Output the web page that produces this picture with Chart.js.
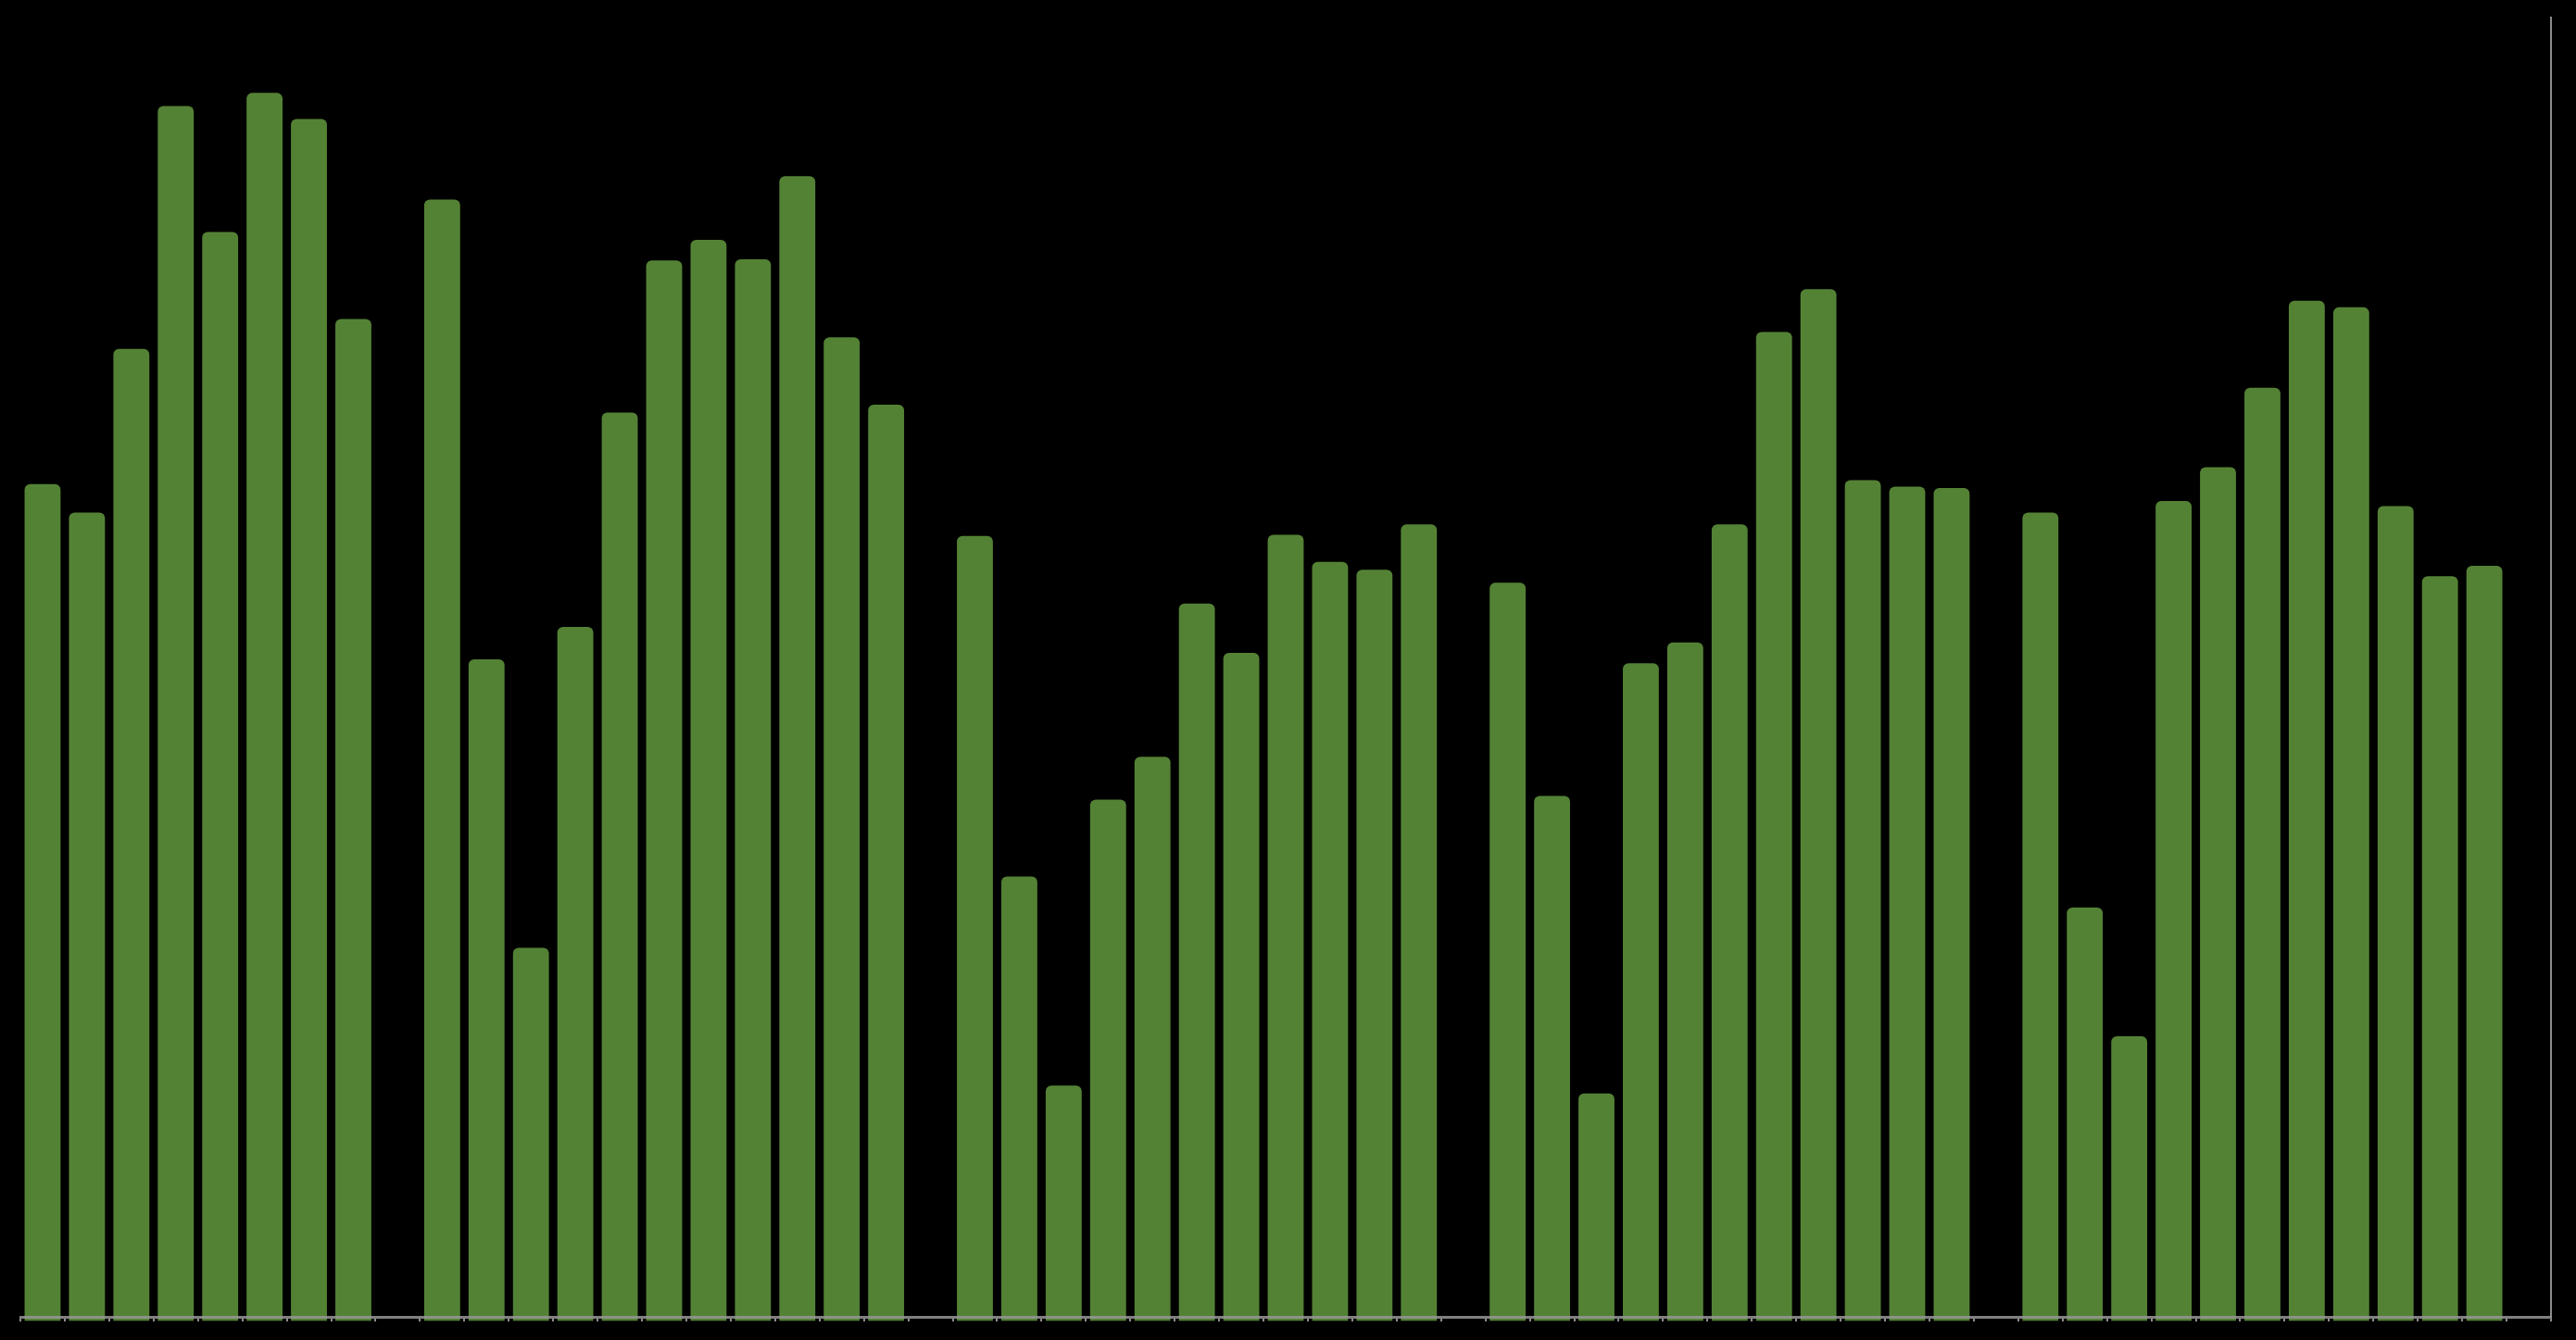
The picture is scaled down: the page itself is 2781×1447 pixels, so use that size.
<!DOCTYPE html>
<html>
<head>
<meta charset="utf-8">
<title>Bar groups</title>
<script src="https://cdn.jsdelivr.net/npm/chart.js@4.4.0/dist/chart.umd.min.js"></script>
<style>
    html, body { margin: 0; padding: 0; background: #000000; }
    canvas { display: block; }
</style>
</head>
<body>
<canvas id="barChart" width="2781" height="1447"></canvas>
<script>
// Bar heights per group (no axis labels in the source, values read as % of plot height)
const group1 = [64.1, 61.9, 74.5, 93.2, 83.5, 94.2, 92.2, 76.8];
const group2 = [86.0, 50.6, 28.4, 53.1, 69.6, 81.3, 82.9, 81.4, 87.8, 75.4, 70.2];
const group3 = [60.1, 33.9, 17.8, 39.8, 43.1, 54.9, 51.1, 60.2, 58.1, 57.5, 61.0];
const group4 = [56.5, 40.1, 17.2, 50.3, 51.9, 61.0, 75.8, 79.1, 64.4, 63.9, 63.8];
const group5 = [61.9, 31.5, 21.6, 62.8, 65.4, 71.5, 78.2, 77.7, 62.4, 57.0, 57.8];

const groupNames = ['A', 'B', 'C', 'D', 'E'];
const yTicks = [0, 100];

// Flatten groups into one category axis, leaving an empty slot after each group
function buildSeries() {
    const groups = [group1, group2, group3, group4, group5];
    const labels = [];
    const values = [];
    groups.forEach((group, g) => {
        group.forEach((v, i) => {
            labels.push(`${groupNames[g]}${i + 1}`);
            values.push(v);
        });
        labels.push('');
        values.push(null);
    });
    return { labels, values };
}

function initializeChart() {
    const series = buildSeries();
    const ctx = document.getElementById('barChart').getContext('2d');
    new Chart(ctx, {
        type: 'bar',
        data: {
            labels: series.labels,
            datasets: [{
                data: series.values,
                backgroundColor: '#548235',
                borderWidth: 0,
                borderRadius: { topLeft: 6, topRight: 6, bottomLeft: 0, bottomRight: 0 },
                borderSkipped: 'start',
                barPercentage: 0.81,
                categoryPercentage: 1.0,
                base: -0.3,
                clip: false
            }]
        },
        options: {
            responsive: false,
            devicePixelRatio: 1,
            animation: false,
            layout: {
                padding: { left: 22, right: 19, top: 19, bottom: 20 }
            },
            plugins: {
                legend: { display: false },
                tooltip: { enabled: false }
            },
            scales: {
                x: {
                    offset: true,
                    ticks: { display: false },
                    grid: {
                        display: true,
                        offset: true,
                        drawOnChartArea: false,
                        drawTicks: true,
                        tickLength: 5,
                        color: '#8c8c8c',
                        lineWidth: 2
                    },
                    border: {
                        display: true,
                        color: 'rgba(150,150,150,0.85)',
                        width: 3,
                        z: 1
                    }
                },
                y: {
                    position: 'right',
                    min: yTicks[0],
                    max: yTicks[1],
                    ticks: { display: false },
                    grid: { display: false },
                    border: {
                        display: true,
                        color: '#8c8c8c',
                        width: 2
                    }
                }
            }
        }
    });
}

document.addEventListener('DOMContentLoaded', function() {
    initializeChart();
});
</script>
</body>
</html>
